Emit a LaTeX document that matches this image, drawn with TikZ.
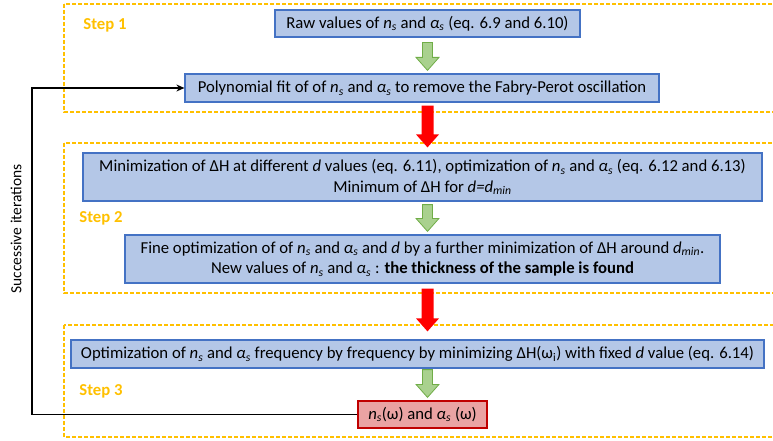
\documentclass[tikz,border=0pt]{standalone}
\usepackage{fontspec}
\setmainfont{Carlito}
\usetikzlibrary{calc,arrows.meta}
\definecolor{boxfill}{HTML}{B4C7E7}
\definecolor{boxdraw}{HTML}{4472C4}
\definecolor{stepcol}{HTML}{FFC000}
\definecolor{gfill}{HTML}{A9D18E}
\definecolor{gdraw}{HTML}{70AD47}
\definecolor{rfill}{HTML}{EAA3A3}
\definecolor{rdraw}{HTML}{C00000}
\definecolor{redarrow}{HTML}{FF0000}
\newcommand\ns{\textit{n}\textsubscript{\textit{s}}}
\newcommand\as{\textit{α}\textsubscript{\textit{s}}}
\newcommand\blockarrow[5]{%
  \path[#1] let \p1=(#2), \p2=(#3) in
    (\x1-#4,\y1) -- (\x1+#4,\y1) -- (\x1+#4,\y2+13pt) -- (\x1+#5,\y2+13pt)
    -- (\x1,\y2) -- (\x1-#5,\y2+13pt) -- (\x1-#4,\y2+13pt) -- cycle;}
\tikzset{
  box/.style={draw=boxdraw, fill=boxfill, line width=1.2pt, inner sep=0pt, align=center,
    font=\fontsize{16.7}{20.5}\selectfont},
  resbox/.style={box, draw=rdraw, fill=rfill},
  stepframe/.style={draw=stepcol, line width=1.3pt, dash pattern=on 4pt off 2pt},
  steplabel/.style={text=stepcol, font=\fontsize{16.7}{19}\selectfont\bfseries},
  greenarrow/.style={draw=gdraw, fill=gfill, line width=0.8pt},
  redarr/.style={fill=redarrow},
  feedback/.style={draw=black, line width=1.2pt, -{Stealth[length=8pt,width=7pt]}},
}
\begin{document}
\begin{tikzpicture}[x=1pt,y=-1pt]
\useasboundingbox (0,0) rectangle (773,441);
% step frames
\draw[stepframe] (64,4) rectangle (790,112);
\draw[stepframe] (64,143) rectangle (790,293);
\draw[stepframe] (64,325) rectangle (790,437);
\node[steplabel] (s1) at (105,25) {Step 1};
\node[steplabel] (s2) at (101,218) {Step 2};
\node[steplabel] (s3) at (101,391) {Step 3};
% boxes
\node[box, minimum width=305, minimum height=27] (b1) at (427.5,23.5)
  {Raw values of \ns{} and \as{} (eq. 6.9 and 6.10)};
\node[box, minimum width=474, minimum height=28] (b2) at (422,88)
  {Polynomial fit of of \ns{} and \as{} to remove the Fabry-Perot oscillation};
\node[box, minimum width=679, minimum height=48] (b3) at (422.5,177)
  {Minimization of ΔH at different \textit{d} values (eq. 6.11), optimization of \ns{} and \as{} (eq. 6.12 and 6.13)\\
   Minimum of ΔH for \textit{d=d}\textsubscript{\textit{min}}};
\node[box, minimum width=595, minimum height=48] (b4) at (422.5,259)
  {Fine optimization of of \ns{} and \as{} and \textit{d} by a further minimization of ΔH around \textit{d}\textsubscript{\textit{min}}.\\
   New values of \ns{} and \as{} : \textbf{the thickness of the sample is found}};
\node[box, minimum width=693, minimum height=28] (b5) at (417.5,354)
  {Optimization of \ns{} and \as{} frequency by frequency by minimizing ΔH(ω\textsubscript{i}) with fixed \textit{d} value (eq. 6.14)};
\node[resbox, minimum width=129, minimum height=27] (b6) at (422.5,414.5)
  {\ns(ω) and \as{} (ω)};
% arrow axis
\coordinate (ax) at (427.5,0);
\coordinate (g1t) at ($(ax |- b1.south)+(0,5)$);
\coordinate (g1b) at ($(ax |- b2.north)+(0,-3)$);
\coordinate (r1t) at ($(ax |- b2.south)+(0,3)$);
\coordinate (r1b) at ($(ax |- b3.north)+(0,-5)$);
\coordinate (g2t) at ($(ax |- b3.south)+(0,3)$);
\coordinate (g2b) at ($(ax |- b4.north)+(0,-3)$);
\coordinate (r2t) at ($(ax |- b4.south)+(0,5)$);
\coordinate (r2b) at ($(ax |- b5.north)+(0,-8)$);
\coordinate (g3t) at ($(ax |- b5.south)+(0,1)$);
\coordinate (g3b) at ($(ax |- b6.north)+(0,-3)$);
\blockarrow{greenarrow}{g1t}{g1b}{5pt}{11.5pt}
\blockarrow{redarr}{r1t}{r1b}{6pt}{11.5pt}
\blockarrow{greenarrow}{g2t}{g2b}{5pt}{11.5pt}
\blockarrow{redarr}{r2t}{r2b}{6pt}{11.5pt}
\blockarrow{greenarrow}{g3t}{g3b}{5pt}{11.5pt}
% feedback loop
\coordinate (c1) at (32,414.5);
\coordinate (c2) at (32,88);
\draw[feedback] (b6.west) -- (c1) -- (c2) -- (b2.west);
\node[rotate=90, font=\fontsize{15.5}{18}\selectfont] (it) at (16,229) {Successive iterations};
\end{tikzpicture}
\end{document}
